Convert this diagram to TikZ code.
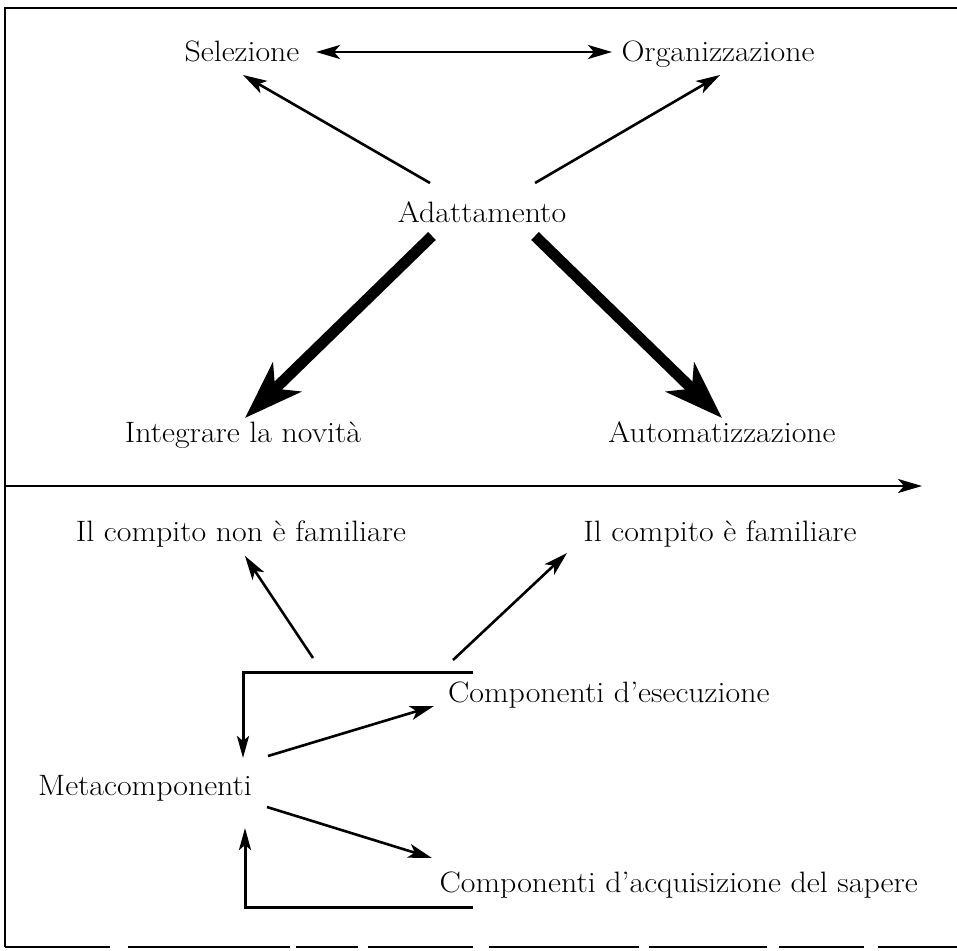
\documentclass[tikz,border=0pt]{standalone}
\usepackage{graphicx}
\usetikzlibrary{arrows.meta}
\newcommand{\wtx}[1]{\scalebox{1.08}[1]{#1}}
\begin{document}
\begin{tikzpicture}[x=1pt,y=-1pt,
  lbl/.style={inner sep=0pt,anchor=base,font=\fontsize{29.5}{34}\selectfont},
  tip/.style={-{Stealth[length=24pt,width=14pt,inset=6pt]}},
  thin/.style={line width=2.6pt,tip},
  thick/.style={line width=11pt,-{Stealth[length=58pt,width=40pt,inset=16pt]}},
  frame/.style={line width=2.6pt},
  brk/.style={line width=3pt,-{Stealth[length=22pt,width=12pt,inset=5pt]}}]
\useasboundingbox (0,0) rectangle (957,950);
% frame
\draw[frame] (957,8) -- (5,8) -- (5,947);
\draw[frame,dash pattern=on 105pt off 18pt on 162pt off 6pt on 62pt off 10pt on 105pt off 16pt on 150pt off 10pt on 118pt off 12pt on 85pt off 14pt] (5,947) -- (957,947);
% text nodes
\node[lbl] (sel) at (242,61) {\wtx{Selezione}};
\node[lbl] (org) at (718,61) {\wtx{Organizzazione}};
\node[lbl] (ada) at (482,222) {\wtx{Adattamento}};
\node[lbl] (int) at (243,442) {\wtx{Integrare la novità}};
\node[lbl] (aut) at (722,442) {\wtx{Automatizzazione}};
\node[lbl] (nfam) at (241,541) {\wtx{Il compito non è familiare}};
\node[lbl] (fam) at (720,541) {\wtx{Il compito è familiare}};
\node[lbl,anchor=base west] (ese) at (448,702) {\wtx{Componenti d’esecuzione}};
\node[lbl,anchor=base west] (meta) at (38,795) {\wtx{Metacomponenti}};
\node[lbl,anchor=base east] (acq) at (918,892) {\wtx{Componenti d’acquisizione del sapere}};
% coordinates
\coordinate (dl) at (316,52);
\coordinate (dr) at (612,52);
\coordinate (aL) at (430,183);
\coordinate (aR) at (535,183);
\coordinate (sT) at (243,75);
\coordinate (oT) at (720,75);
\coordinate (tL) at (432,236);
\coordinate (tR) at (535,236);
\coordinate (iT) at (245,418);
\coordinate (uT) at (722,418);
\coordinate (ax0) at (5,486);
\coordinate (ax1) at (922,486);
\coordinate (bL) at (313,658);
\coordinate (bR) at (453,660);
\coordinate (nT) at (245,556);
\coordinate (fT) at (567,553);
\coordinate (bt1) at (473,672);
\coordinate (bt2) at (243,672);
\coordinate (bt3) at (243,758);
\coordinate (m1) at (268,756);
\coordinate (e1) at (434,706);
\coordinate (m2) at (267,807);
\coordinate (q1) at (432,858);
\coordinate (bb1) at (473,907);
\coordinate (bb2) at (245,907);
\coordinate (bb3) at (245,828);
% connectors
\draw[line width=2.6pt,{Stealth[length=24pt,width=14pt,inset=6pt]}-{Stealth[length=24pt,width=14pt,inset=6pt]}] (dl) -- (dr);
\draw[thin] (aL) -- (sT);
\draw[thin] (aR) -- (oT);
\draw[thick] (tL) -- (iT);
\draw[thick] (tR) -- (uT);
\draw[thin] (ax0) -- (ax1);
\draw[thin] (bL) -- (nT);
\draw[thin] (bR) -- (fT);
\draw[brk] (bt1) -- (bt2) -- (bt3);
\draw[thin] (m1) -- (e1);
\draw[thin] (m2) -- (q1);
\draw[brk] (bb1) -- (bb2) -- (bb3);
\end{tikzpicture}
\end{document}
